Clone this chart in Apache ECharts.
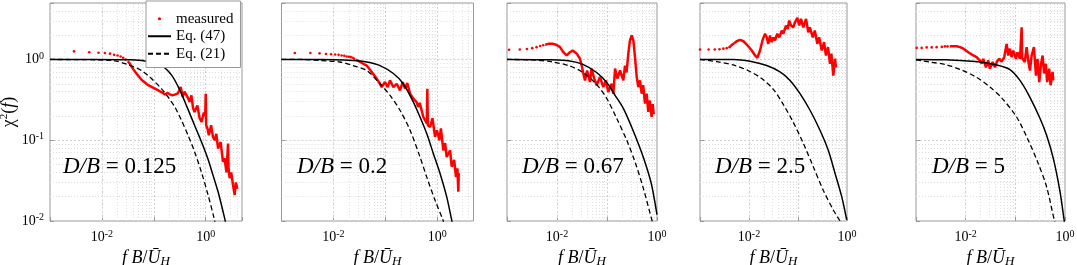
<!DOCTYPE html>
<html>
<head>
<meta charset="utf-8">
<script src="https://cdn.jsdelivr.net/npm/echarts@6/dist/echarts.min.js"></script>
<style>
html, body { margin: 0; padding: 0; background: #fff; }
#chart { width: 1077px; height: 265px; }
</style>
</head>
<body>
<div id="chart"></div>
<script>
// D/B values, one per panel
var ratioLabels = ['0.125', '0.2', '0.67', '2.5', '5'];

// measured: sparse low-frequency dots, then the dense (line-like) part
var dots1 = [[0.0029,1.26],[0.0057,1.23],[0.0086,1.21],[0.0114,1.2],[0.0143,1.18],[0.0172,1.14],[0.02,1.12],[0.0229,1.09],[0.0257,1.05],[0.0286,1.0]];
var meas1 = [[0.0315,0.95],[0.0345,0.89],[0.0394,0.77],[0.047,0.66],[0.058,0.56],[0.078,0.48],[0.105,0.435],[0.14,0.395],[0.163,0.367],[0.185,0.385],[0.203,0.37],[0.228,0.36],[0.254,0.367],[0.29,0.38],[0.33,0.455],[0.36,0.343],[0.39,0.4],[0.426,0.414],[0.46,0.33],[0.49,0.297],[0.53,0.36],[0.57,0.25],[0.61,0.224],[0.69,0.27],[0.76,0.19],[0.83,0.168],[0.92,0.22],[0.98,0.2],[1.0,0.377],[1.02,0.153],[1.08,0.14],[1.15,0.115],[1.27,0.153],[1.38,0.11],[1.49,0.1],[1.6,0.12],[1.73,0.079],[1.94,0.095],[2.05,0.07],[2.15,0.054],[2.3,0.06],[2.51,0.04],[2.69,0.091],[2.75,0.045],[2.89,0.034],[3.1,0.04],[3.35,0.028],[3.61,0.021],[3.8,0.03],[4.07,0.025]];
var eq47_1 = [[0.001,1.0],[0.0073,1.0],[0.032,0.99],[0.067,0.96],[0.14,0.84],[0.22,0.64],[0.316,0.42],[0.44,0.255],[0.61,0.153],[0.83,0.095],[1.1,0.059],[1.38,0.037],[1.73,0.023],[2.3,0.011],[2.5,0.0085]];
var eq21_1 = [[0.001,1.0],[0.0073,0.99],[0.0178,0.96],[0.032,0.86],[0.058,0.73],[0.09,0.58],[0.14,0.435],[0.188,0.343],[0.254,0.258],[0.34,0.177],[0.457,0.115],[0.61,0.072],[0.83,0.04],[1.11,0.021],[1.44,0.011],[1.55,0.0088]];

var dots2 = [[0.0018,1.2],[0.0036,1.2],[0.0054,1.19],[0.0072,1.17],[0.009,1.16],[0.0108,1.15],[0.0126,1.14],[0.0144,1.12],[0.0162,1.11],[0.018,1.09],[0.0198,1.08],[0.0216,1.07],[0.0234,1.05],[0.0252,1.02]];
var meas2 = [[0.027,1.0],[0.0326,0.93],[0.0438,0.84],[0.0547,0.7],[0.068,0.58],[0.079,0.5],[0.085,0.455],[0.0986,0.525],[0.111,0.455],[0.123,0.55],[0.143,0.455],[0.166,0.5],[0.192,0.414],[0.216,0.525],[0.24,0.435],[0.265,0.51],[0.3,0.377],[0.347,0.327],[0.4,0.297],[0.43,0.258],[0.46,0.29],[0.54,0.194],[0.63,0.161],[0.645,0.435],[0.66,0.153],[0.73,0.146],[0.81,0.187],[0.91,0.11],[0.99,0.133],[1.1,0.1],[1.18,0.14],[1.31,0.075],[1.42,0.092],[1.52,0.062],[1.77,0.075],[1.9,0.047],[2.12,0.057],[2.3,0.035],[2.45,0.045],[2.55,0.023],[2.6,0.039]];
var eq47_2 = [[0.001,1.0],[0.0055,1.0],[0.024,0.97],[0.044,0.93],[0.079,0.84],[0.143,0.67],[0.222,0.5],[0.347,0.297],[0.466,0.194],[0.628,0.121],[0.84,0.0686],[1.13,0.039],[1.52,0.02],[1.9,0.0103],[2.0,0.009]];
var eq21_2 = [[0.001,1.0],[0.0023,1.0],[0.0055,0.97],[0.0134,0.93],[0.024,0.84],[0.044,0.73],[0.079,0.5],[0.123,0.36],[0.192,0.235],[0.3,0.133],[0.466,0.062],[0.628,0.035],[0.91,0.018],[1.29,0.0103],[1.35,0.009]];

var dots3 = [[0.0011,1.32],[0.0018,1.33],[0.0025,1.35],[0.0032,1.38],[0.0039,1.42],[0.0046,1.47],[0.0053,1.5]];
var meas3 = [[0.0058,1.52],[0.0067,1.56],[0.0084,1.56],[0.0098,1.51],[0.0115,1.42],[0.0134,1.23],[0.0156,1.12],[0.0182,1.23],[0.0206,1.29],[0.0248,1.18],[0.0288,1.02],[0.0312,0.84],[0.0336,0.67],[0.0363,0.55],[0.04,0.73],[0.0457,0.525],[0.049,0.77],[0.0557,0.58],[0.0622,0.48],[0.0724,0.605],[0.0843,0.455],[0.095,0.55],[0.106,0.395],[0.124,0.5],[0.134,0.377],[0.145,0.77],[0.161,0.58],[0.182,0.73],[0.212,0.55],[0.229,0.84],[0.246,0.69],[0.267,1.18],[0.288,1.72],[0.312,1.98],[0.337,1.72],[0.363,1.07],[0.393,0.605],[0.423,0.455],[0.457,0.55],[0.494,0.377],[0.53,0.48],[0.575,0.284],[0.62,0.377],[0.67,0.224],[0.72,0.31],[0.78,0.194],[0.82,0.28],[0.86,0.21]];
var eq47_3 = [[0.001,1.0],[0.0072,0.99],[0.018,0.96],[0.033,0.87],[0.062,0.69],[0.0986,0.52],[0.145,0.36],[0.212,0.248],[0.312,0.145],[0.457,0.08],[0.622,0.046],[0.78,0.028],[1.0,0.012]];
var eq21_3 = [[0.001,1.0],[0.0029,0.99],[0.0083,0.93],[0.018,0.83],[0.033,0.69],[0.062,0.49],[0.0986,0.33],[0.156,0.187],[0.248,0.1],[0.363,0.054],[0.532,0.0255],[0.78,0.0106],[0.85,0.009]];

var dots4 = [[0.001,1.33],[0.0015,1.33],[0.002,1.33],[0.0025,1.34],[0.003,1.36],[0.0035,1.38],[0.004,1.42]];
var meas4 = [[0.0041,1.45],[0.0048,1.56],[0.0056,1.68],[0.0066,1.75],[0.0077,1.68],[0.009,1.53],[0.0114,1.29],[0.0133,1.12],[0.0148,1.05],[0.0168,1.29],[0.019,1.75],[0.0212,2.08],[0.023,1.88],[0.0248,1.56],[0.0268,1.98],[0.029,1.64],[0.0314,1.88],[0.034,1.72],[0.0378,2.08],[0.0416,1.88],[0.0465,2.28],[0.05,2.08],[0.0569,2.63],[0.0616,2.39],[0.0664,3.03],[0.072,2.63],[0.08,2.5],[0.087,2.89],[0.097,3.27],[0.106,2.63],[0.115,3.18],[0.128,2.5],[0.146,3.18],[0.162,2.17],[0.175,2.5],[0.2,1.88],[0.22,2.28],[0.248,1.56],[0.27,1.88],[0.305,1.29],[0.34,1.64],[0.372,1.12],[0.41,1.42],[0.45,0.885],[0.48,1.18],[0.525,0.63],[0.569,1.02],[0.595,0.8]];
var eq47_4 = [[0.001,1.0],[0.0048,1.0],[0.0105,0.95],[0.023,0.84],[0.043,0.7],[0.0687,0.55],[0.11,0.377],[0.176,0.235],[0.281,0.133],[0.415,0.075],[0.569,0.039],[0.78,0.02],[0.986,0.0103]];
var eq21_4 = [[0.001,1.0],[0.0022,0.94],[0.0048,0.855],[0.0095,0.73],[0.0182,0.58],[0.0314,0.426],[0.05,0.278],[0.08,0.167],[0.128,0.092],[0.205,0.047],[0.328,0.024],[0.525,0.0137],[0.7,0.0103],[0.75,0.0095]];

var dots5 = [[0.00103,1.39],[0.0013,1.39],[0.00164,1.41],[0.00207,1.41],[0.0026,1.42],[0.0033,1.43],[0.0038,1.45],[0.0043,1.45]];
var meas5 = [[0.0048,1.46],[0.0066,1.46],[0.0077,1.42],[0.009,1.36],[0.0113,1.23],[0.0142,1.12],[0.0166,1.07],[0.0194,0.97],[0.021,0.885],[0.0226,1.02],[0.0256,0.8],[0.0285,0.97],[0.0308,0.77],[0.0349,0.93],[0.0389,0.8],[0.0426,0.94],[0.0474,1.02],[0.0529,0.94],[0.0598,1.07],[0.0668,1.56],[0.072,1.12],[0.0778,1.36],[0.084,1.07],[0.0908,1.29],[0.103,1.02],[0.11,1.23],[0.124,1.02],[0.131,1.05],[0.134,2.5],[0.137,1.05],[0.144,1.07],[0.155,0.93],[0.169,1.42],[0.182,0.97],[0.197,0.73],[0.213,1.12],[0.237,1.42],[0.26,0.63],[0.28,1.02],[0.303,0.525],[0.33,0.885],[0.354,1.12],[0.38,0.67],[0.41,0.885],[0.438,0.525],[0.48,0.77],[0.513,0.48],[0.562,0.7],[0.58,0.55]];
var eq47_5 = [[0.001,1.0],[0.0041,0.99],[0.0105,0.96],[0.0194,0.93],[0.042,0.855],[0.078,0.75],[0.124,0.55],[0.197,0.34],[0.313,0.187],[0.426,0.115],[0.58,0.06],[0.79,0.0235],[0.96,0.0103],[1.0,0.0085]];
var eq21_5 = [[0.001,0.99],[0.0019,0.93],[0.0041,0.86],[0.0083,0.74],[0.0166,0.6],[0.0308,0.455],[0.053,0.335],[0.106,0.194],[0.182,0.1],[0.289,0.0516],[0.426,0.0265],[0.607,0.0103],[0.65,0.009]];

// axis ranges and grid tick positions
var xMin = 0.001;
var xMax = [5, 5, 1, 1, 1];
var yMin = 0.01, yMax = 5;
var xLabelExp = [-2, 0];
var yLabelExp = [-2, -1, 0];
var minorX = [0.002,0.003,0.004,0.005,0.006,0.007,0.008,0.009,0.02,0.03,0.04,0.05,0.06,0.07,0.08,0.09,0.2,0.3,0.4,0.5,0.6,0.7,0.8,0.9,2,3,4];
var minorY = [0.02,0.03,0.04,0.05,0.06,0.07,0.08,0.09,0.2,0.3,0.4,0.5,0.6,0.7,0.8,0.9,2,3,4];

var allDots = [dots1, dots2, dots3, dots4, dots5];
var allMeas = [meas1, meas2, meas3, meas4, meas5];
var allEq47 = [eq47_1, eq47_2, eq47_3, eq47_4, eq47_5];
var allEq21 = [eq21_1, eq21_2, eq21_3, eq21_4, eq21_5];

// layout
var gridLeft = [50, 281.5, 507, 700, 916];
var gridWidth = [192, 192, 150, 147, 149];
var noteLeft = [63, 297, 522, 715, 932];
var FONT = 'Liberation Serif';
var FRAME = '#999999';

function decadeLabel(keep) {
    return function (v) {
        var lg = Math.log10(v);
        var e = Math.round(lg);
        if (Math.abs(lg - e) > 1e-6 || keep.indexOf(e) < 0) return '';
        return '{b|10}{s|' + (e < 0 ? '-' + (-e) : e) + '}';
    };
}

var tickRich = {
    b: { fontFamily: FONT, fontSize: 14, lineHeight: 17, color: '#000' },
    s: { fontFamily: FONT, fontSize: 10, lineHeight: 10, verticalAlign: 'top', color: '#000' }
};

var grids = [], xAxes = [], yAxes = [], series = [], titles = [];

for (var i = 0; i < 5; i++) {
    grids.push({
        left: gridLeft[i], top: 3, width: gridWidth[i], height: 218,
        show: true, backgroundColor: '#fff', borderColor: FRAME, borderWidth: 1,
        containLabel: false, outerBoundsMode: 'none'
    });
    xAxes.push({
        type: 'log', gridIndex: i, min: xMin, max: xMax[i],
        axisLine: { show: false },
        axisTick: { show: true, inside: true, length: 4, lineStyle: { color: FRAME } },
        axisLabel: { margin: 8, formatter: decadeLabel(xLabelExp), rich: tickRich },
        splitLine: { show: true, showMinLine: false, showMaxLine: false, lineStyle: { color: '#cfcfcf', type: [2, 2] } },
        name: '{i|f }{i|B}{n|/}{i|Ū}{h|H}',
        nameLocation: 'middle', nameGap: 24,
        nameTextStyle: {
            rich: {
                i: { fontFamily: FONT, fontStyle: 'italic', fontSize: 18, lineHeight: 20, color: '#000' },
                n: { fontFamily: FONT, fontSize: 18, lineHeight: 20, color: '#000' },
                h: { fontFamily: FONT, fontStyle: 'italic', fontSize: 13, lineHeight: 13, verticalAlign: 'bottom', color: '#000' }
            }
        }
    });
    yAxes.push({
        type: 'log', gridIndex: i, min: yMin, max: yMax,
        axisLine: { show: false },
        axisTick: { show: true, inside: true, length: 4, lineStyle: { color: FRAME } },
        axisLabel: { show: i === 0, margin: 6, formatter: decadeLabel(yLabelExp), rich: tickRich },
        splitLine: { show: true, showMinLine: false, showMaxLine: false, lineStyle: { color: '#cfcfcf', type: [2, 2] } },
        name: i === 0 ? '{c|χ}{s|2}{n|(}{i|f}{n|)}' : '',
        nameLocation: 'middle', nameGap: 27, nameRotate: 90,
        nameTextStyle: {
            rich: {
                c: { fontFamily: FONT, fontSize: 18, lineHeight: 20, color: '#000' },
                s: { fontFamily: FONT, fontSize: 11, lineHeight: 11, verticalAlign: 'top', color: '#000' },
                n: { fontFamily: FONT, fontSize: 18, lineHeight: 20, color: '#000' },
                i: { fontFamily: FONT, fontStyle: 'italic', fontSize: 18, lineHeight: 20, color: '#000' }
            }
        }
    });

    var gridMarks = minorX.filter(function (v) { return v < xMax[i]; })
        .map(function (v) { return { xAxis: v }; })
        .concat(minorY.map(function (v) { return { yAxis: v }; }));

    series.push({
        type: 'line', xAxisIndex: i, yAxisIndex: i, data: [], silent: true,
        markLine: {
            z: 1, silent: true, symbol: ['none', 'none'], label: { show: false },
            animation: false,
            lineStyle: { color: '#dedede', type: [1, 2], width: 1 },
            emphasis: { disabled: true },
            data: gridMarks
        }
    });
    series.push({
        name: 'measured', type: 'line', xAxisIndex: i, yAxisIndex: i,
        data: allDots[i], symbol: 'circle', symbolSize: 2.6, showSymbol: true,
        itemStyle: { color: '#ff0000' },
        lineStyle: { width: 0, opacity: 0 },
        z: 3, silent: true
    });
    series.push({
        name: 'measured', type: 'line', xAxisIndex: i, yAxisIndex: i,
        data: allMeas[i], symbol: 'none',
        itemStyle: { color: '#ff0000' },
        lineStyle: { color: '#ff0000', width: 2.5 },
        z: 3, silent: true
    });
    series.push({
        name: 'Eq. (47)', type: 'line', xAxisIndex: i, yAxisIndex: i,
        data: allEq47[i], symbol: 'none', smooth: 0.3,
        itemStyle: { color: '#000' },
        lineStyle: { color: '#000', width: 1.5 },
        z: 4, silent: true
    });
    series.push({
        name: 'Eq. (21)', type: 'line', xAxisIndex: i, yAxisIndex: i,
        data: allEq21[i], symbol: 'none', smooth: 0.3,
        itemStyle: { color: '#000' },
        lineStyle: { color: '#000', width: 1.3, type: [5, 3] },
        z: 4, silent: true
    });

    titles.push({
        text: '{i|D/B}{n| = ' + ratioLabels[i] + '}',
        left: noteLeft[i], top: 154, padding: 0,
        textStyle: {
            fontWeight: 'normal',
            rich: {
                i: { fontFamily: FONT, fontStyle: 'italic', fontWeight: 'normal', fontSize: 23, lineHeight: 26, color: '#000' },
                n: { fontFamily: FONT, fontWeight: 'normal', fontSize: 23, lineHeight: 26, color: '#000' }
            }
        }
    });
}

var chart = echarts.init(document.getElementById('chart'), null, { renderer: 'canvas' });
chart.setOption({
    animation: false,
    backgroundColor: '#fff',
    title: titles,
    legend: {
        data: [
            { name: 'measured' },
            { name: 'Eq. (47)', itemStyle: { color: 'rgba(0,0,0,0)', borderWidth: 0 } },
            { name: 'Eq. (21)', itemStyle: { color: 'rgba(0,0,0,0)', borderWidth: 0 } }
        ],
        orient: 'vertical', left: 146, top: 1,
        padding: [9, 7, 5, 1], itemGap: 0,
        itemWidth: 23, itemHeight: 4,
        backgroundColor: '#fff', borderColor: FRAME, borderWidth: 1, borderRadius: 0,
        selectedMode: false, z: 10,
        textStyle: { fontFamily: FONT, fontSize: 15, lineHeight: 17.5, color: '#000' }
    },
    grid: grids,
    xAxis: xAxes,
    yAxis: yAxes,
    series: series
});
</script>
</body>
</html>
